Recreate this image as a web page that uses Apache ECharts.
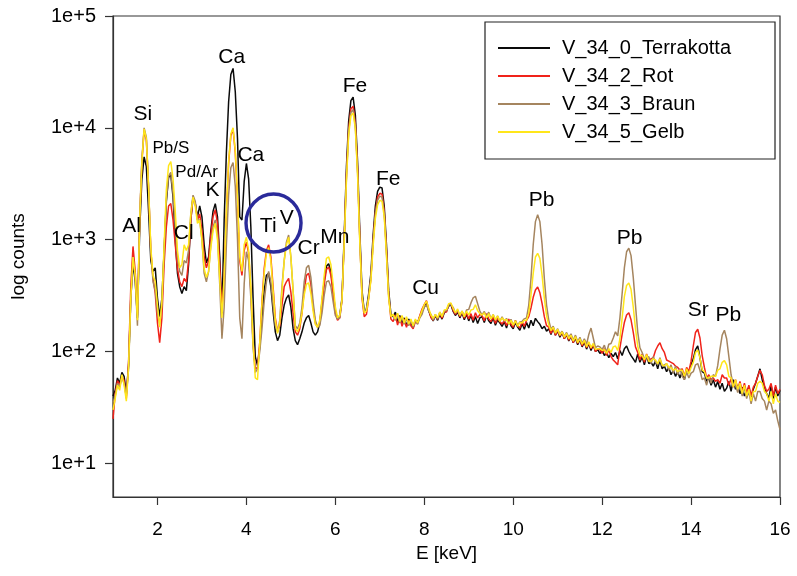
<!DOCTYPE html>
<html><head><meta charset="utf-8">
<script src="https://cdn.jsdelivr.net/npm/echarts@6/dist/echarts.min.js"></script>
<style>html,body{margin:0;padding:0;background:#fff}#c{width:797px;height:576px}</style>
</head><body><div id="c"></div>
<script>
// Energy channels (keV)
const energy = [
1,1.05,1.1,1.15,1.2,1.25,1.3,1.35,1.4,1.45,
1.5,1.55,1.6,1.65,1.7,1.75,1.8,1.85,1.9,1.95,
2,2.05,2.1,2.15,2.2,2.25,2.3,2.35,2.4,2.45,
2.5,2.55,2.6,2.65,2.7,2.75,2.8,2.85,2.9,2.95,
3,3.05,3.1,3.15,3.2,3.25,3.3,3.35,3.4,3.45,
3.5,3.55,3.6,3.65,3.7,3.75,3.8,3.85,3.9,3.95,
4,4.05,4.1,4.15,4.2,4.25,4.3,4.35,4.4,4.45,
4.5,4.55,4.6,4.65,4.7,4.75,4.8,4.85,4.9,4.95,
5,5.05,5.1,5.15,5.2,5.25,5.3,5.35,5.4,5.45,
5.5,5.55,5.6,5.65,5.7,5.75,5.8,5.85,5.9,5.95,
6,6.05,6.1,6.15,6.2,6.25,6.3,6.35,6.4,6.45,
6.5,6.55,6.6,6.65,6.7,6.75,6.8,6.85,6.9,6.95,
7,7.05,7.1,7.15,7.2,7.25,7.3,7.35,7.4,7.45,
7.5,7.55,7.6,7.65,7.7,7.75,7.8,7.85,7.9,7.95,
8,8.05,8.1,8.15,8.2,8.25,8.3,8.35,8.4,8.45,
8.5,8.55,8.6,8.65,8.7,8.75,8.8,8.85,8.9,8.95,
9,9.05,9.1,9.15,9.2,9.25,9.3,9.35,9.4,9.45,
9.5,9.55,9.6,9.65,9.7,9.75,9.8,9.85,9.9,9.95,
10,10.05,10.1,10.15,10.2,10.25,10.3,10.35,10.4,10.45,
10.5,10.55,10.6,10.65,10.7,10.75,10.8,10.85,10.9,10.95,
11,11.05,11.1,11.15,11.2,11.25,11.3,11.35,11.4,11.45,
11.5,11.55,11.6,11.65,11.7,11.75,11.8,11.85,11.9,11.95,
12,12.05,12.1,12.15,12.2,12.25,12.3,12.35,12.4,12.45,
12.5,12.55,12.6,12.65,12.7,12.75,12.8,12.85,12.9,12.95,
13,13.05,13.1,13.15,13.2,13.25,13.3,13.35,13.4,13.45,
13.5,13.55,13.6,13.65,13.7,13.75,13.8,13.85,13.9,13.95,
14,14.05,14.1,14.15,14.2,14.25,14.3,14.35,14.4,14.45,
14.5,14.55,14.6,14.65,14.7,14.75,14.8,14.85,14.9,14.95,
15,15.05,15.1,15.15,15.2,15.25,15.3,15.35,15.4,15.45,
15.5,15.55,15.6,15.65,15.7,15.75,15.8,15.85,15.9,15.95,
16];

const terrakotta = [
40,45,58,52,65,60,42,75,300,620,
420,200,1200,3500,5500,4500,1800,650,520,560,
300,205,300,800,2200,3600,3800,2400,1000,500,
380,330,380,350,600,1500,2400,2100,1600,2000,
1600,900,620,700,1200,1800,2100,1600,700,220,
1500,6000,17000,30000,34000,21000,8000,1600,1500,3300,
4800,3500,1300,300,90,75,110,200,350,480,
500,380,230,150,125,140,200,260,300,320,
250,160,125,115,130,150,180,200,210,180,
150,140,150,180,280,430,580,610,520,350,
230,195,210,300,1100,4500,11500,17500,18800,13000,
5000,1200,350,230,240,330,500,1100,2000,2700,
2950,2900,2000,900,350,215,
205,225,185,210,180,200,170,195,178,165,
190,182,205,228,250,272,230,205,188,210,
190,215,195,222,230,255,262,228,210,225,
200,222,192,215,188,210,182,205,178,200,
205,182,210,188,178,200,172,192,180,168,
185,162,190,170,160,182,165,155,178,158,
182,162,190,170,198,185,175,160,168,152,
160,142,162,140,152,134,148,130,142,124,
138,120,132,115,128,110,122,105,118,102,
115,100,104,96,103,92,98,88,96,90,
98,86,102,92,106,112,100,92,86,80,
95,80,90,76,92,78,80,74,82,70,
84,70,74,66,72,62,68,60,66,58,
66,56,68,66,76,86,104,112,88,66,
64,54,58,50,56,48,54,46,52,44,
47,54,44,56,46,50,42,48,40,44,
48,38,46,52,60,70,56,48,42,38,
50,38,48,40,45];

const rot = [
25,42,55,50,60,55,38,80,380,870,
520,210,1500,5000,9500,7800,2900,800,450,330,
180,120,200,600,1300,2000,2100,1500,900,550,
420,380,450,420,650,1500,2400,2100,1500,1700,
1200,700,560,650,1100,1600,1850,1400,600,230,
450,1700,4800,8500,9800,6000,2300,650,480,800,
950,760,350,120,70,72,120,280,550,800,
900,700,380,200,150,170,260,380,420,450,
340,220,150,140,160,220,350,480,500,400,
250,180,165,180,260,400,540,570,480,330,
220,190,200,290,1000,3800,9800,14800,15600,11000,
4300,1050,300,205,215,300,450,980,1750,2400,
2600,2550,1800,800,320,195,
185,212,172,205,168,195,165,190,170,160,
185,178,210,240,262,285,238,200,190,212,
195,222,198,228,225,262,268,232,215,232,
205,228,198,222,195,218,190,222,200,215,
210,188,218,195,185,205,178,200,185,176,
190,170,195,175,165,190,170,162,185,168,
190,205,245,305,355,378,335,268,205,170,
165,145,162,140,155,138,150,130,144,126,
140,120,136,118,130,112,126,108,120,106,
116,100,106,104,96,106,92,104,90,84,
80,76,108,142,182,212,222,192,148,110,
98,84,95,80,95,82,86,88,102,112,
120,106,98,84,82,80,78,74,72,68,
70,60,72,66,82,112,148,158,132,92,
72,58,62,56,58,54,56,52,62,58,
58,50,57,48,56,46,54,44,52,42,
50,40,48,52,60,68,62,50,44,46,
52,40,50,42,46];

const braun = [
35,40,52,48,58,52,40,70,280,700,
450,170,1600,5200,10000,8200,3000,800,420,350,
220,175,260,800,2300,3700,4000,2600,1300,700,
520,480,650,620,800,1700,2500,2200,1500,1500,
1000,500,420,520,900,1300,1500,1100,400,130,
250,900,2500,4400,4900,3000,1000,200,130,400,
780,650,300,110,65,70,100,160,280,420,
520,420,260,170,150,190,380,650,950,1100,
700,350,170,160,180,250,420,560,590,460,
280,190,165,170,220,320,420,430,380,280,
210,195,200,290,1000,3600,9200,13800,14500,10300,
4000,1000,320,230,240,310,460,950,1700,2250,
2450,2400,1700,760,310,210,
210,190,215,180,205,175,198,170,188,165,
190,175,200,215,248,262,230,215,190,215,
195,225,205,230,232,262,262,248,220,235,
210,230,205,235,238,272,302,312,268,230,
212,228,205,225,196,214,190,208,186,204,
186,198,176,194,172,188,170,184,186,196,
200,260,450,900,1450,1670,1450,900,450,260,
190,158,168,146,160,142,152,136,148,134,
144,126,140,122,134,118,130,116,142,162,
132,108,112,110,104,114,98,116,118,132,
150,138,200,330,560,780,840,720,460,260,
150,108,98,86,88,90,78,90,80,76,
88,74,76,78,68,76,64,74,62,70,
60,56,66,58,64,66,76,78,68,56,
58,50,60,52,62,60,75,105,140,155,
130,90,62,50,50,43,52,40,48,38,
44,34,42,36,44,44,38,36,30,36,
34,28,30,24,20];

const gelb = [
30,38,50,45,62,50,36,72,300,700,
480,190,1500,5000,9800,8000,3000,850,480,420,
260,165,280,900,2800,4600,5000,3500,1800,800,
560,600,900,800,900,1700,2400,2000,1400,1500,
1000,550,460,520,850,1200,1400,1000,450,200,
480,1800,5000,8800,10000,6200,2400,700,520,900,
1050,800,380,120,58,56,120,270,500,760,
850,650,350,190,145,180,350,650,900,1050,
700,350,160,150,170,220,320,400,410,330,
230,175,165,190,300,480,680,700,600,400,
250,200,210,290,950,3400,8700,12800,13600,9800,
3800,950,310,220,230,300,430,880,1550,2050,
2250,2200,1600,720,300,205,
215,195,220,185,210,180,205,176,195,170,
195,180,205,232,262,282,242,212,198,215,
200,225,205,235,238,268,272,242,222,240,
210,230,205,230,212,235,238,262,232,218,
212,222,200,218,196,214,192,208,186,200,
190,194,176,190,172,188,168,182,180,190,
190,220,320,500,700,755,680,480,300,210,
172,154,165,146,158,140,150,134,145,130,
140,124,136,120,130,116,126,110,122,108,
118,104,106,106,102,104,96,106,98,110,
112,102,130,200,310,390,410,360,250,160,
112,92,92,84,94,82,82,86,84,78,
86,76,74,78,72,72,68,70,66,68,
68,60,70,63,72,80,98,103,88,68,
66,58,58,60,60,60,68,70,80,83,
76,60,58,48,56,46,52,42,50,40,
46,36,44,44,52,54,52,44,42,36,
44,34,42,36,35];

const seriesNames = ['V_34_0_Terrakotta','V_34_2_Rot','V_34_3_Braun','V_34_5_Gelb'];
const xTicks = [2,4,6,8,10,12,14,16];
const yTickValues = [10,100,1000,10000,100000];
const yTickLabels = ['1e+1','1e+2','1e+3','1e+4','1e+5'];
// element annotations: [label, energy keV, counts]
const peakLabels = [
['Al',1.42,1325],['Si',1.67,13300],['Pb/S',2.30,6590],['Pd/Ar',2.88,4030],
['Cl',2.59,1135],['K',3.24,2750],['Ca',3.67,42500],['Ca',4.10,5710],
['Ti',4.49,1325],['V',4.91,1560],['Cr',5.40,841],['Mn',5.99,1045],
['Fe',6.44,23650],['Fe',7.19,3485],['Cu',8.03,367],['Pb',10.64,2240],
['Pb',12.62,1028],['Sr',14.16,236],['Pb',14.84,210]];
const highlight = [4.61, 1410];

// ---- layout / style ----
const FONT = "'Liberation Sans', Arial, Helvetica, sans-serif";
const W = 797, H = 576, GL = 113, GR = 17, GT = 16, GB = 79;
const yMin = 5, yMax = 100000;
const plotH = H - GT - GB;
const tickGridBottom = GB + plotH * Math.log10(yTickValues[0] / yMin) / Math.log10(yMax / yMin);
const axisColor = '#333333';
const textColor = '#000000';
const colors = ['#0a0a0a', '#f0231a', '#a5855f', '#ffe61a'];
const spectra = [terrakotta, rot, braun, gelb];

const lineSeries = spectra.map((vals, k) => ({
  name: seriesNames[k], type: 'line', xAxisIndex: 0, yAxisIndex: 0,
  data: vals.map((v, i) => [energy[i], v]),
  showSymbol: false, symbol: 'none', color: colors[k],
  lineStyle: { width: 1.5, color: colors[k] }, sampling: null, z: 2 + k
}));

const labelSeries = {
  type: 'scatter', xAxisIndex: 0, yAxisIndex: 0, silent: true, z: 20,
  symbolSize: 1, itemStyle: { color: 'rgba(0,0,0,0)', opacity: 1 },
  data: peakLabels.map(p => ({
    value: [p[1], p[2], p[0]],
    label: { fontSize: p[0].indexOf('/') >= 0 ? 17 : 21, color: textColor }
  })),
  label: { show: true, position: 'inside', formatter: p => p.data.value[2],
           color: textColor, fontFamily: FONT, fontSize: 21, opacity: 1, textBorderWidth: 0 }
};

const circleSeries = {
  type: 'scatter', xAxisIndex: 0, yAxisIndex: 0, silent: true, z: 21,
  symbol: 'circle', symbolSize: [55, 58],
  itemStyle: { color: 'rgba(0,0,0,0)', borderColor: '#2a2a9a', borderWidth: 3.5, opacity: 1 },
  data: [highlight]
};

const chart = echarts.init(document.getElementById('c'), null, { renderer: 'canvas' });
chart.setOption({
  animation: false,
  backgroundColor: '#fff',
  grid: [
    { left: GL, right: GR, top: GT, bottom: GB, show: true, borderColor: axisColor, borderWidth: 1.2, backgroundColor: 'transparent' },
    { left: GL, right: GR, top: GT, bottom: tickGridBottom, show: false }
  ],
  xAxis: [
    { gridIndex: 0, type: 'value', min: 1, max: 16,
      axisLine: { show: true, lineStyle: { color: axisColor, width: 1.2 } },
      axisTick: { show: true, customValues: xTicks, length: 8, inside: false, lineStyle: { color: axisColor, width: 1.2 } },
      axisLabel: { show: true, customValues: xTicks, margin: 23, fontSize: 19, color: textColor, fontFamily: FONT },
      splitLine: { show: false },
      name: 'E [keV]', nameLocation: 'middle', nameGap: 45,
      nameTextStyle: { fontSize: 19, color: textColor, fontFamily: FONT } },
    { gridIndex: 1, type: 'value', min: 1, max: 16, show: false }
  ],
  yAxis: [
    { gridIndex: 0, type: 'log', logBase: 10, min: yMin, max: yMax,
      axisLine: { show: true, lineStyle: { color: axisColor, width: 1.2 } },
      axisTick: { show: false }, axisLabel: { show: false }, splitLine: { show: false },
      name: 'log counts', nameLocation: 'middle', nameGap: 85, nameRotate: 90,
      nameTextStyle: { fontSize: 19, color: textColor, fontFamily: FONT } },
    { gridIndex: 1, type: 'log', logBase: 10, min: yTickValues[0], max: yTickValues[yTickValues.length - 1],
      axisLine: { show: false },
      axisTick: { show: true, length: 8, inside: false, lineStyle: { color: axisColor, width: 1.2 } },
      axisLabel: { show: true, margin: 17, fontSize: 20, color: textColor, fontFamily: FONT,
        formatter: v => {
          const i = yTickValues.findIndex(t => Math.abs(Math.log10(t) - Math.log10(v)) < 1e-6);
          return i >= 0 ? yTickLabels[i] : '';
        } },
      splitLine: { show: false } }
  ],
  legend: {
    data: seriesNames, orient: 'vertical', left: 485, top: 22,
    icon: 'rect', itemWidth: 52, itemHeight: 2, itemGap: 6,
    padding: [15, 44, 16, 13], borderColor: '#222', borderWidth: 1.2,
    selectedMode: false,
    textStyle: { fontSize: 20, color: textColor, fontFamily: FONT, lineHeight: 22, padding: [0, 0, 0, 7] }
  },
  series: [...lineSeries, labelSeries, circleSeries]
});
</script>
</body></html>
